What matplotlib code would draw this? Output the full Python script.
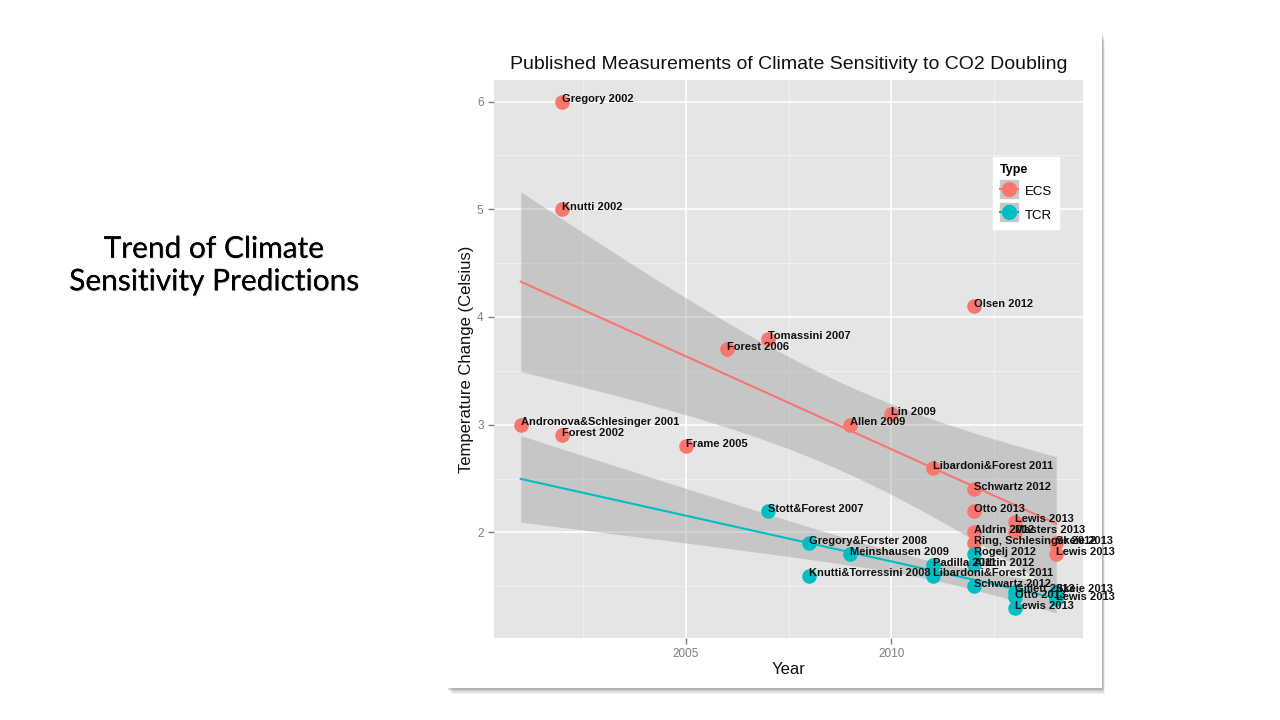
import numpy as np
import matplotlib
matplotlib.use('Agg')
import matplotlib.pyplot as plt
import matplotlib.patheffects as pe
from matplotlib.patches import Rectangle
from matplotlib.lines import Line2D
from matplotlib.legend_handler import HandlerTuple

# ECS estimates
ecs_years = [2001, 2002, 2002, 2002, 2005, 2006, 2007, 2009, 2010, 2011,
             2012, 2012, 2012, 2012, 2012, 2013, 2013, 2014, 2014]
ecs_values = [3.0, 6.0, 5.0, 2.9, 2.8, 3.7, 3.8, 3.0, 3.1, 2.6,
              4.1, 2.4, 2.2, 2.0, 1.9, 2.1, 2.0, 1.9, 1.8]
ecs_labels = ['Andronova&Schlesinger 2001', 'Gregory 2002', 'Knutti 2002', 'Forest 2002',
              'Frame 2005', 'Forest 2006', 'Tomassini 2007', 'Allen 2009', 'Lin 2009',
              'Libardoni&Forest 2011', 'Olsen 2012', 'Schwartz 2012', 'Otto 2013',
              'Aldrin 2012', 'Ring, Schlesinger 2012', 'Lewis 2013', 'Masters 2013',
              'Skeie 2013', 'Lewis 2013']

# TCR estimates
tcr_years = [2007, 2008, 2008, 2009, 2011, 2011, 2012, 2012, 2012,
             2013, 2013, 2013, 2014, 2014]
tcr_values = [2.2, 1.9, 1.6, 1.8, 1.7, 1.6, 1.8, 1.7, 1.5,
              1.45, 1.4, 1.3, 1.45, 1.38]
tcr_labels = ['Stott&Forest 2007', 'Gregory&Forster 2008', 'Knutti&Torressini 2008',
              'Meinshausen 2009', 'Padilla 2011', 'Libardoni&Forest 2011', 'Rogelj 2012',
              'Aldrin 2012', 'Schwartz 2012', 'Gillett 2013', 'Otto 2013', 'Lewis 2013',
              'Skeie 2013', 'Lewis 2013']

ECS_COLOR = '#F8766D'
TCR_COLOR = '#00BFC4'
FONT = 'Liberation Sans'


def t_quantile(df):
    try:
        from scipy import stats
        return stats.t.ppf(0.975, df)
    except Exception:
        return 2.1


def fit_band(x, y, xs):
    x = np.asarray(x, dtype=float)
    y = np.asarray(y, dtype=float)
    n = len(x)
    slope, intercept = np.polyfit(x, y, 1)
    resid = y - (slope * x + intercept)
    s = np.sqrt(np.sum(resid ** 2) / (n - 2))
    xm = x.mean()
    se = s * np.sqrt(1.0 / n + (xs - xm) ** 2 / np.sum((x - xm) ** 2))
    fit = slope * xs + intercept
    t = t_quantile(n - 2)
    return fit, fit - t * se, fit + t * se


fig = plt.figure(figsize=(12.8, 7.2), dpi=100)
fig.patch.set_facecolor('white')

# slide text on the left
fig.text(214 / 1280, 1 - 265 / 720, 'Trend of Climate\nSensitivity Predictions',
         ha='center', va='center', fontsize=21.5, family='Lato', linespacing=1.2,
         color='black',
         path_effects=[pe.withSimplePatchShadow(offset=(0.8, -0.8), shadow_rgbFace='#999999', alpha=0.3),
                       pe.Normal()])

# picture card with a soft shadow
for i, a in enumerate([0.05, 0.07, 0.09, 0.12]):
    off = (4 - i) * 1.5
    fig.patches.append(Rectangle(((446 + off) / 1280, 1 - (688 + off) / 720),
                                 (656 - off * 0.5) / 1280, (656 - off * 0.5) / 720,
                                 transform=fig.transFigure, facecolor='black',
                                 alpha=a, edgecolor='none', zorder=0))
fig.patches.append(Rectangle((446 / 1280, 1 - 688 / 720), 656 / 1280, 656 / 720,
                             transform=fig.transFigure, facecolor='white',
                             edgecolor='none', zorder=1))

ax = fig.add_axes([494 / 1280, 1 - 638 / 720, 589 / 1280, 558 / 720])
ax.set_zorder(2)
ax.set_facecolor('#E5E5E5')
ax.set_xlim(2000.35, 2014.65)
ax.set_ylim(1.02, 6.2)
ax.set_xticks([2005, 2010])
ax.set_yticks([2, 3, 4, 5, 6])
ax.set_xticks([2002.5, 2007.5, 2012.5], minor=True)
ax.set_yticks([1.5, 2.5, 3.5, 4.5, 5.5], minor=True)
ax.grid(which='major', color='white', linewidth=1.2)
ax.grid(which='minor', color='#F2F2F2', linewidth=0.6)
ax.set_axisbelow(True)
for sp in ax.spines.values():
    sp.set_visible(False)
ax.tick_params(which='major', length=4, color='#7F7F7F', labelcolor='#7F7F7F',
               labelsize=8.5, width=1)
ax.tick_params(which='minor', length=0)
for lab in ax.get_xticklabels() + ax.get_yticklabels():
    lab.set_family(FONT)

all_years = ecs_years + tcr_years
xs = np.linspace(min(all_years), max(all_years), 100)
for yrs, vals, col in [(ecs_years, ecs_values, ECS_COLOR), (tcr_years, tcr_values, TCR_COLOR)]:
    fit, lo, hi = fit_band(yrs, vals, xs)
    ax.fill_between(xs, lo, hi, color='#999999', alpha=0.4, linewidth=0, zorder=2)
    ax.plot(xs, fit, color=col, linewidth=1.5, zorder=3)

ax.scatter(ecs_years, ecs_values, s=110, color=ECS_COLOR, zorder=4, linewidths=0)
ax.scatter(tcr_years, tcr_values, s=110, color=TCR_COLOR, zorder=4, linewidths=0)

for yrs, vals, labs in [(ecs_years, ecs_values, ecs_labels), (tcr_years, tcr_values, tcr_labels)]:
    for x, y, t in zip(yrs, vals, labs):
        ax.annotate(t, (x, y), xytext=(0, -2), textcoords='offset points',
                    ha='left', va='bottom', fontsize=8, fontweight='bold',
                    family=FONT, color='#111111', zorder=5)

ax.set_title('Published Measurements of Climate Sensitivity to CO2 Doubling',
             fontsize=14, family=FONT, color='#111111', pad=8)
ax.set_xlabel('Year', fontsize=12, family=FONT, color='#111111', labelpad=1)
ax.set_ylabel('Temperature Change (Celsius)', fontsize=12, family=FONT,
              color='#111111', labelpad=2)

# legend keys: grey square with point and line on top, like ggplot
key_bg = dict(color='#C8C8C8', marker='s', markersize=13, linestyle='none')
handles = [(Line2D([], [], **key_bg),
            Line2D([], [], color=ECS_COLOR, marker='o', markersize=10, linewidth=1.5)),
           (Line2D([], [], **key_bg),
            Line2D([], [], color=TCR_COLOR, marker='o', markersize=10, linewidth=1.5))]
leg = ax.legend(handles, ['ECS', 'TCR'], title='Type', loc='upper left',
                bbox_to_anchor=(0.836, 0.874),
                handler_map={tuple: HandlerTuple(ndivide=1, pad=0)},
                frameon=True, fancybox=False, framealpha=1, edgecolor='white',
                prop={'family': FONT, 'size': 9.5}, handlelength=1.4, handleheight=1.5,
                handletextpad=0.5, borderpad=0.5, labelspacing=0.55)
leg.get_title().set_fontweight('bold')
leg.get_title().set_family(FONT)
leg.get_title().set_fontsize(9)
leg._legend_box.align = 'left'

fig.savefig('out.png', dpi=100)
